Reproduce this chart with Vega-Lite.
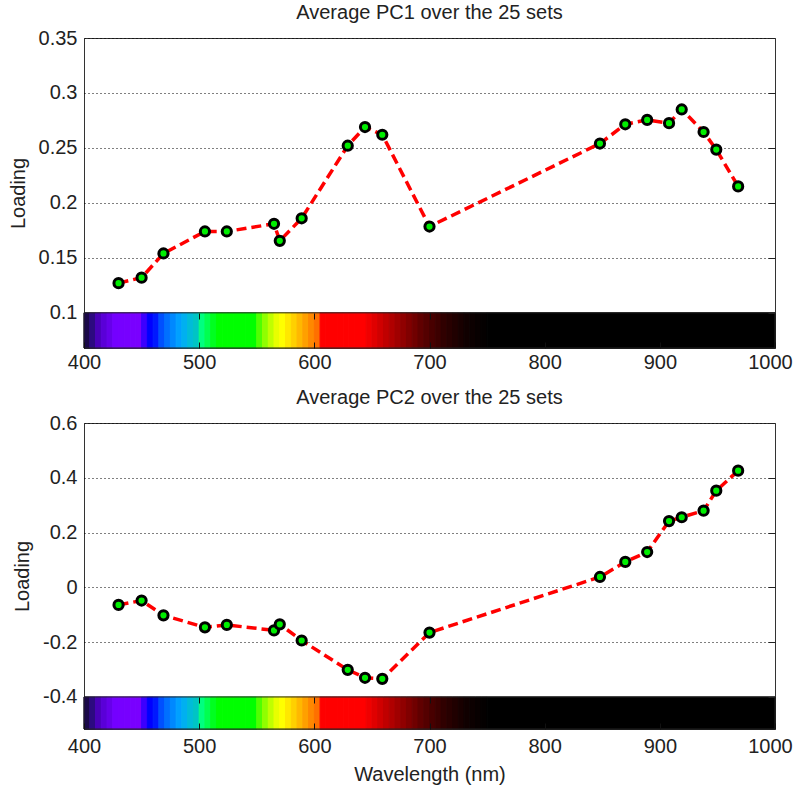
{
  "$schema": "https://vega.github.io/schema/vega-lite/v6.json",
  "padding": {"left": 7, "top": 2, "right": 0, "bottom": 2},
  "spacing": 14,
  "config": {
    "font": "Liberation Sans",
    "view": {"stroke": "#333", "strokeWidth": 1},
    "axis": {"labelFont": "Liberation Sans", "labelFontSize": 20, "labelColor": "#222", "titleFont": "Liberation Sans", "titleFontSize": 20, "titleFontWeight": "normal", "titleColor": "#222", "domain": false, "grid": false, "ticks": false, "labelFlush": false},
    "title": {"font": "Liberation Sans", "fontSize": 20, "fontWeight": "normal", "color": "#222", "offset": 5}
  },
  "datasets": {
    "pc1": [
      {"wavelength": 430, "loading": 0.127}, {"wavelength": 450, "loading": 0.132}, {"wavelength": 469, "loading": 0.154},
      {"wavelength": 505, "loading": 0.174}, {"wavelength": 524, "loading": 0.174}, {"wavelength": 565, "loading": 0.181},
      {"wavelength": 570, "loading": 0.1655}, {"wavelength": 589, "loading": 0.186}, {"wavelength": 629, "loading": 0.252},
      {"wavelength": 644, "loading": 0.269}, {"wavelength": 659, "loading": 0.262}, {"wavelength": 700, "loading": 0.1785},
      {"wavelength": 848, "loading": 0.254}, {"wavelength": 870, "loading": 0.2715}, {"wavelength": 889, "loading": 0.2755},
      {"wavelength": 908, "loading": 0.2725}, {"wavelength": 919, "loading": 0.285}, {"wavelength": 938, "loading": 0.2645},
      {"wavelength": 949, "loading": 0.2485}, {"wavelength": 968, "loading": 0.215}
    ],
    "pc2": [
      {"wavelength": 430, "loading": -0.064}, {"wavelength": 450, "loading": -0.048}, {"wavelength": 469, "loading": -0.102},
      {"wavelength": 505, "loading": -0.146}, {"wavelength": 524, "loading": -0.137}, {"wavelength": 565, "loading": -0.157},
      {"wavelength": 570, "loading": -0.135}, {"wavelength": 589, "loading": -0.194}, {"wavelength": 629, "loading": -0.301},
      {"wavelength": 644, "loading": -0.330}, {"wavelength": 659, "loading": -0.334}, {"wavelength": 700, "loading": -0.165},
      {"wavelength": 848, "loading": 0.038}, {"wavelength": 870, "loading": 0.093}, {"wavelength": 889, "loading": 0.129},
      {"wavelength": 908, "loading": 0.242}, {"wavelength": 919, "loading": 0.256}, {"wavelength": 938, "loading": 0.280},
      {"wavelength": 949, "loading": 0.353}, {"wavelength": 968, "loading": 0.426}
    ],
    "spectrum": [
      {"s": 400, "e": 405}, {"s": 405, "e": 410}, {"s": 410, "e": 415}, {"s": 415, "e": 420}, {"s": 420, "e": 425},
      {"s": 425, "e": 430}, {"s": 430, "e": 435}, {"s": 435, "e": 440}, {"s": 440, "e": 445}, {"s": 445, "e": 450},
      {"s": 450, "e": 455}, {"s": 455, "e": 460}, {"s": 460, "e": 465}, {"s": 465, "e": 470}, {"s": 470, "e": 475},
      {"s": 475, "e": 480}, {"s": 480, "e": 485}, {"s": 485, "e": 490}, {"s": 490, "e": 495}, {"s": 495, "e": 500},
      {"s": 500, "e": 505}, {"s": 505, "e": 510}, {"s": 510, "e": 515}, {"s": 515, "e": 520}, {"s": 520, "e": 525},
      {"s": 525, "e": 530}, {"s": 530, "e": 535}, {"s": 535, "e": 540}, {"s": 540, "e": 545}, {"s": 545, "e": 550},
      {"s": 550, "e": 555}, {"s": 555, "e": 560}, {"s": 560, "e": 565}, {"s": 565, "e": 570}, {"s": 570, "e": 575},
      {"s": 575, "e": 580}, {"s": 580, "e": 585}, {"s": 585, "e": 590}, {"s": 590, "e": 595}, {"s": 595, "e": 600},
      {"s": 600, "e": 605}, {"s": 605, "e": 610}, {"s": 610, "e": 615}, {"s": 615, "e": 620}, {"s": 620, "e": 625},
      {"s": 625, "e": 630}, {"s": 630, "e": 635}, {"s": 635, "e": 640}, {"s": 640, "e": 645}, {"s": 645, "e": 650},
      {"s": 650, "e": 655}, {"s": 655, "e": 660}, {"s": 660, "e": 665}, {"s": 665, "e": 670}, {"s": 670, "e": 675},
      {"s": 675, "e": 680}, {"s": 680, "e": 685}, {"s": 685, "e": 690}, {"s": 690, "e": 695}, {"s": 695, "e": 700},
      {"s": 700, "e": 705}, {"s": 705, "e": 710}, {"s": 710, "e": 715}, {"s": 715, "e": 720}, {"s": 720, "e": 725},
      {"s": 725, "e": 730}, {"s": 730, "e": 735}, {"s": 735, "e": 740}, {"s": 740, "e": 745}, {"s": 745, "e": 750},
      {"s": 750, "e": 1000}
    ]
  },
  "vconcat": [
    {
      "title": "Average PC1 over the 25 sets",
      "width": 691,
      "height": 310,
      "resolve": {"axis": {"x": "independent", "y": "independent"}},
      "layer": [
        {
          "data": {"name": "spectrum"},
          "mark": {"type": "rect", "strokeWidth": 1},
          "encoding": {
            "x": {"field": "s", "type": "quantitative", "scale": {"domain": [400, 1000], "nice": false},
              "axis": {"orient": "bottom", "values": [400, 500, 600, 700, 800, 900, 1000], "format": "d", "title": null, "labelPadding": 10, "labelOffset": {"condition": {"test": "datum.value >= 1000", "value": -5}, "value": 0}, "zindex": 1, "ticks": true, "tickSize": -6, "tickColor": "#111"}},
            "x2": {"field": "e"},
            "y": {"datum": 0.068, "type": "quantitative", "scale": {"domain": [0.068, 0.35], "nice": false, "zero": false}, "axis": null},
            "y2": {"datum": 0.1},
            "color": {"field": "s", "type": "quantitative", "legend": null, "scale": {"type": "linear", "interpolate": "rgb",
              "domain": [400,405,410,415,420,425,445,450,455,460,465,470,475,480,485,490,495,500,505,510,515,545,550,555,560,565,570,575,580,585,590,595,600,605,640,645,650,660,670,680,690,700,710,720,730,740,750,1000],
              "range": ["#1a0848","#2c0a80","#4a00b8","#5a00d8","#6600ea","#7400ff","#7a00ff","#3c00ff","#0000ff","#0018ff","#0050ff","#0070ff","#0088ff","#00a0ff","#00b0f0","#00bcd8","#00c4c4","#00ff80","#00ff50","#00ff20","#00ff00","#00ff00","#50ff00","#90ff00","#c0ff00","#e8ff00","#ffff00","#ffe800","#ffd000","#ffb800","#ffa000","#ff8800","#ff7000","#ff0000","#ff0000","#f00000","#e00000","#c00000","#a00000","#800000","#600000","#480000","#300000","#200000","#100000","#080000","#000000","#000000"]}},
            "stroke": {"field": "s", "type": "quantitative", "legend": null, "scale": {"type": "linear", "interpolate": "rgb",
              "domain": [400,405,410,415,420,425,445,450,455,460,465,470,475,480,485,490,495,500,505,510,515,545,550,555,560,565,570,575,580,585,590,595,600,605,640,645,650,660,670,680,690,700,710,720,730,740,750,1000],
              "range": ["#1a0848","#2c0a80","#4a00b8","#5a00d8","#6600ea","#7400ff","#7a00ff","#3c00ff","#0000ff","#0018ff","#0050ff","#0070ff","#0088ff","#00a0ff","#00b0f0","#00bcd8","#00c4c4","#00ff80","#00ff50","#00ff20","#00ff00","#00ff00","#50ff00","#90ff00","#c0ff00","#e8ff00","#ffff00","#ffe800","#ffd000","#ffb800","#ffa000","#ff8800","#ff7000","#ff0000","#ff0000","#f00000","#e00000","#c00000","#a00000","#800000","#600000","#480000","#300000","#200000","#100000","#080000","#000000","#000000"]}}
          }
        },
        {
          "data": {"values": [{}]},
          "mark": {"type": "rect", "filled": false, "color": "#222", "strokeWidth": 1},
          "encoding": {
            "x": {"datum": 400, "type": "quantitative",
              "axis": {"orient": "bottom", "offset": -35, "values": [500, 600, 700], "labels": false, "title": null, "ticks": true, "tickSize": 6, "tickColor": "#111", "zindex": 1}},
            "x2": {"datum": 1000},
            "y": {"datum": 0.068, "type": "quantitative", "axis": null},
            "y2": {"datum": 0.1}
          }
        },
        {
          "data": {"name": "pc1"},
          "mark": {"type": "line", "color": "#ff0000", "strokeWidth": 3.5, "strokeDash": [10, 5]},
          "encoding": {
            "x": {"field": "wavelength", "type": "quantitative", "scale": {"domain": [400, 1000], "nice": false}, "axis": null},
            "y": {"field": "loading", "type": "quantitative", "scale": {"domain": [0.068, 0.35], "nice": false, "zero": false},
              "axis": {"values": [0.1, 0.15, 0.2, 0.25, 0.3, 0.35], "labelExpr": "'' + datum.value", "grid": true, "gridDash": [1, 3], "gridColor": "#000", "gridOpacity": 1, "title": "Loading", "titlePadding": 10, "labelPadding": 7}}
          }
        },
        {
          "data": {"name": "pc1"},
          "mark": {"type": "point", "filled": true, "color": "#00ee00", "stroke": "#000", "strokeWidth": 3, "size": 85, "opacity": 1},
          "encoding": {
            "x": {"field": "wavelength", "type": "quantitative", "scale": {"domain": [400, 1000], "nice": false}, "axis": null},
            "y": {"field": "loading", "type": "quantitative", "scale": {"domain": [0.068, 0.35], "nice": false, "zero": false},
              "axis": {"orient": "right", "values": [0.1, 0.15, 0.2, 0.25, 0.3, 0.35], "labels": false, "ticks": true, "tickSize": -7, "tickColor": "#222", "grid": false, "title": null, "zindex": 1}}
          }
        }
      ]
    },
    {
      "title": "Average PC2 over the 25 sets",
      "width": 691,
      "height": 306,
      "resolve": {"axis": {"x": "independent", "y": "independent"}},
      "layer": [
        {
          "data": {"name": "spectrum"},
          "mark": {"type": "rect", "strokeWidth": 1},
          "encoding": {
            "x": {"field": "s", "type": "quantitative", "scale": {"domain": [400, 1000], "nice": false},
              "axis": {"orient": "bottom", "values": [400, 500, 600, 700, 800, 900, 1000], "format": "d", "title": "Wavelength (nm)", "titlePadding": 8, "labelPadding": 13, "labelOffset": {"condition": {"test": "datum.value >= 1000", "value": -5}, "value": 0}, "zindex": 1, "ticks": true, "tickSize": -6, "tickColor": "#111"}},
            "x2": {"field": "e"},
            "y": {"datum": -0.517, "type": "quantitative", "scale": {"domain": [-0.517, 0.6], "nice": false, "zero": false}, "axis": null},
            "y2": {"datum": -0.4},
            "color": {"field": "s", "type": "quantitative", "legend": null, "scale": {"type": "linear", "interpolate": "rgb",
              "domain": [400,405,410,415,420,425,445,450,455,460,465,470,475,480,485,490,495,500,505,510,515,545,550,555,560,565,570,575,580,585,590,595,600,605,640,645,650,660,670,680,690,700,710,720,730,740,750,1000],
              "range": ["#1a0848","#2c0a80","#4a00b8","#5a00d8","#6600ea","#7400ff","#7a00ff","#3c00ff","#0000ff","#0018ff","#0050ff","#0070ff","#0088ff","#00a0ff","#00b0f0","#00bcd8","#00c4c4","#00ff80","#00ff50","#00ff20","#00ff00","#00ff00","#50ff00","#90ff00","#c0ff00","#e8ff00","#ffff00","#ffe800","#ffd000","#ffb800","#ffa000","#ff8800","#ff7000","#ff0000","#ff0000","#f00000","#e00000","#c00000","#a00000","#800000","#600000","#480000","#300000","#200000","#100000","#080000","#000000","#000000"]}},
            "stroke": {"field": "s", "type": "quantitative", "legend": null, "scale": {"type": "linear", "interpolate": "rgb",
              "domain": [400,405,410,415,420,425,445,450,455,460,465,470,475,480,485,490,495,500,505,510,515,545,550,555,560,565,570,575,580,585,590,595,600,605,640,645,650,660,670,680,690,700,710,720,730,740,750,1000],
              "range": ["#1a0848","#2c0a80","#4a00b8","#5a00d8","#6600ea","#7400ff","#7a00ff","#3c00ff","#0000ff","#0018ff","#0050ff","#0070ff","#0088ff","#00a0ff","#00b0f0","#00bcd8","#00c4c4","#00ff80","#00ff50","#00ff20","#00ff00","#00ff00","#50ff00","#90ff00","#c0ff00","#e8ff00","#ffff00","#ffe800","#ffd000","#ffb800","#ffa000","#ff8800","#ff7000","#ff0000","#ff0000","#f00000","#e00000","#c00000","#a00000","#800000","#600000","#480000","#300000","#200000","#100000","#080000","#000000","#000000"]}}
          }
        },
        {
          "data": {"values": [{}]},
          "mark": {"type": "rect", "filled": false, "color": "#222", "strokeWidth": 1},
          "encoding": {
            "x": {"datum": 400, "type": "quantitative",
              "axis": {"orient": "bottom", "offset": -32, "values": [500, 600, 700], "labels": false, "title": null, "ticks": true, "tickSize": 6, "tickColor": "#111", "zindex": 1}},
            "x2": {"datum": 1000},
            "y": {"datum": -0.517, "type": "quantitative", "axis": null},
            "y2": {"datum": -0.4}
          }
        },
        {
          "data": {"name": "pc2"},
          "mark": {"type": "line", "color": "#ff0000", "strokeWidth": 3.5, "strokeDash": [10, 5]},
          "encoding": {
            "x": {"field": "wavelength", "type": "quantitative", "scale": {"domain": [400, 1000], "nice": false}, "axis": null},
            "y": {"field": "loading", "type": "quantitative", "scale": {"domain": [-0.517, 0.6], "nice": false, "zero": false},
              "axis": {"values": [-0.4, -0.2, 0, 0.2, 0.4, 0.6], "labelExpr": "'' + datum.value", "grid": true, "gridDash": [1, 3], "gridColor": "#000", "gridOpacity": 1, "title": "Loading", "titlePadding": 10, "labelPadding": 7}}
          }
        },
        {
          "data": {"name": "pc2"},
          "mark": {"type": "point", "filled": true, "color": "#00ee00", "stroke": "#000", "strokeWidth": 3, "size": 85, "opacity": 1},
          "encoding": {
            "x": {"field": "wavelength", "type": "quantitative", "scale": {"domain": [400, 1000], "nice": false}, "axis": null},
            "y": {"field": "loading", "type": "quantitative", "scale": {"domain": [-0.517, 0.6], "nice": false, "zero": false},
              "axis": {"orient": "right", "values": [-0.4, -0.2, 0, 0.2, 0.4, 0.6], "labels": false, "ticks": true, "tickSize": -7, "tickColor": "#222", "grid": false, "title": null, "zindex": 1}}
          }
        }
      ]
    }
  ]
}
